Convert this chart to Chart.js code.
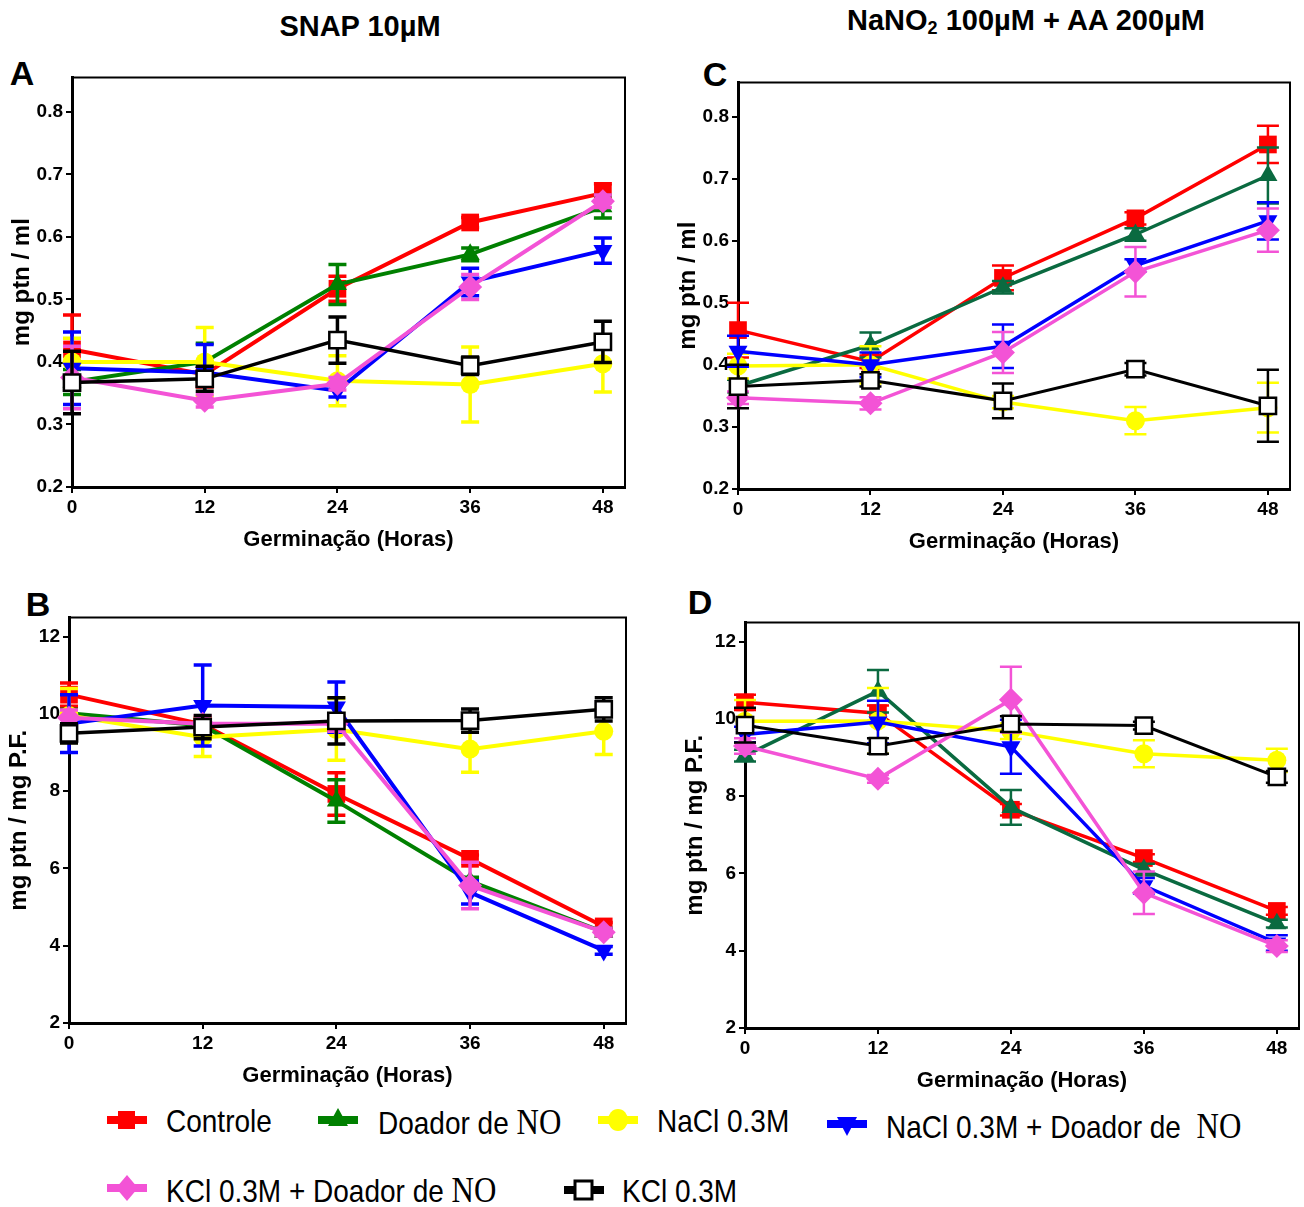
<!DOCTYPE html>
<html>
<head>
<meta charset="utf-8">
<script src="https://cdn.jsdelivr.net/npm/chart.js@4.4.1/dist/chart.umd.min.js"></script>
<style>
  body { margin:0; background:#fff; width:1304px; height:1207px; position:relative; overflow:hidden;
         font-family:"Liberation Sans", Arial, sans-serif; color:#000; }
  canvas { position:absolute; }
  .t { position:absolute; font-weight:bold; white-space:nowrap; line-height:1; transform:translate(-50%,-50%); }
  .leg { position:absolute; white-space:nowrap; font-size:28px; line-height:1; transform:translateY(-50%) scaleY(1.15); }
  .leg .no { font-family:"Liberation Serif", "Times New Roman", serif; font-size:31px; }
  .ico { position:absolute; transform:translateY(-50%); }
</style>
</head>
<body>
<div class="t" style="left:360px;top:26px;font-size:29px">SNAP 10µM</div>
<div class="t" style="left:1026px;top:21px;font-size:29px">NaNO<sub style="font-size:18px;vertical-align:-4px">2</sub> 100µM + AA 200µM</div>
<div class="t" style="left:22px;top:73px;font-size:34px">A</div>
<div class="t" style="left:38px;top:604px;font-size:34px">B</div>
<div class="t" style="left:715px;top:74px;font-size:34px">C</div>
<div class="t" style="left:700px;top:602px;font-size:34px">D</div>

<canvas id="cA"></canvas>
<canvas id="cB"></canvas>
<canvas id="cC"></canvas>
<canvas id="cD"></canvas>
<div id="legend"></div>

<script>
// ---- données ----
const hours = [0, 12, 24, 36, 48];
const seriesNames = ['Controle', 'Doador de NO', 'NaCl 0.3M', 'NaCl 0.3M + Doador de NO', 'KCl 0.3M + Doador de NO', 'KCl 0.3M'];
const ticksMl = [0.2, 0.3, 0.4, 0.5, 0.6, 0.7, 0.8];
const ticksPF = [2, 4, 6, 8, 10, 12];

// A - SNAP, mg ptn / ml
const aControle = [0.42, 0.38, 0.517, 0.623, 0.67];
const aDoador   = [0.368, 0.40, 0.524, 0.572, 0.648];
const aNaCl     = [0.40, 0.40, 0.37, 0.364, 0.397];
const aNaClNO   = [0.39, 0.383, 0.354, 0.528, 0.578];
const aKClNO    = [0.375, 0.338, 0.365, 0.52, 0.657];
const aKCl      = [0.367, 0.373, 0.435, 0.394, 0.432];
const aErrControle = [0.055, 0.02, 0.02, 0.008, 0.015];
const aErrDoador   = [0.02, 0.03, 0.032, 0.01, 0.018];
const aErrNaCl     = [0.038, 0.055, 0.04, 0.06, 0.045];
const aErrNaClNO   = [0.058, 0.045, 0.01, 0.022, 0.02];
const aErrKClNO    = [0.05, 0.01, 0.01, 0.02, 0.01];
const aErrKCl      = [0.05, 0.02, 0.037, 0.014, 0.033];

// B - SNAP, mg ptn / mg P.F.
const bControle = [10.5, 9.73, 7.93, 6.25, 4.5];
const bDoador   = [10.02, 9.7, 7.75, 5.67, 4.35];
const bNaCl     = [9.96, 9.4, 9.6, 9.09, 9.55];
const bNaClNO   = [9.75, 10.22, 10.18, 5.38, 3.88];
const bKClNO    = [9.9, 9.75, 9.75, 5.56, 4.35];
const bKCl      = [9.5, 9.66, 9.82, 9.83, 10.12];
const bErrControle = [0.3, 0.15, 0.55, 0.1, 0.1];
const bErrDoador   = [0.1, 0.15, 0.55, 0.1, 0.1];
const bErrNaCl     = [0.7, 0.5, 0.8, 0.6, 0.6];
const bErrNaClNO   = [0.75, 1.05, 0.65, 0.3, 0.1];
const bErrKClNO    = [0.2, 0.2, 0.2, 0.6, 0.1];
const bErrKCl      = [0.25, 0.3, 0.6, 0.3, 0.3];

// C - NaNO2 + AA, mg ptn / ml
const cControle = [0.456, 0.405, 0.54, 0.636, 0.755];
const cDoador   = [0.366, 0.432, 0.525, 0.61, 0.705];
const cNaCl     = [0.398, 0.40, 0.34, 0.31, 0.331];
const cNaClNO   = [0.422, 0.40, 0.43, 0.56, 0.632];
const cKClNO    = [0.347, 0.338, 0.42, 0.55, 0.617];
const cKCl      = [0.365, 0.375, 0.342, 0.393, 0.334];
const cErrControle = [0.044, 0.01, 0.02, 0.01, 0.03];
const cErrDoador   = [0.01, 0.02, 0.01, 0.01, 0.045];
const cErrNaCl     = [0.02, 0.03, 0.01, 0.022, 0.04];
const cErrNaClNO   = [0.025, 0.02, 0.035, 0.01, 0.03];
const cErrKClNO    = [0.01, 0.01, 0.033, 0.04, 0.035];
const cErrKCl      = [0.035, 0.01, 0.028, 0.01, 0.058];

// D - NaNO2 + AA, mg ptn / mg P.F.
const dControle = [10.43, 10.15, 7.65, 6.4, 5.03];
const dDoador   = [9.05, 10.72, 7.71, 6.1, 4.7];
const dNaCl     = [9.94, 9.95, 9.68, 9.1, 8.93];
const dNaClNO   = [9.6, 9.92, 9.28, 5.68, 4.2];
const dKClNO    = [9.3, 8.45, 10.5, 5.5, 4.12];
const dKCl      = [9.84, 9.3, 9.87, 9.83, 8.5];
const dErrControle = [0.2, 0.2, 0.15, 0.1, 0.1];
const dErrDoador   = [0.15, 0.55, 0.45, 0.15, 0.1];
const dErrNaCl     = [0.55, 0.85, 0.2, 0.35, 0.3];
const dErrNaClNO   = [0.2, 0.55, 0.7, 0.2, 0.2];
const dErrKClNO    = [0.2, 0.1, 0.85, 0.55, 0.15];
const dErrKCl      = [0.45, 0.2, 0.2, 0.1, 0.15];

// ---- styles ----
const FONT = '"Liberation Sans", Arial, sans-serif';
const greenSNAP = '#008000';
const greenNaNO = '#0a6a40';
const pink = '#f353d6';
function styles(green) {
  return [
    { color:'#ff0000', point:'rect', r:12.5 },
    { color:green, point:'triangle', r:11 },
    { color:'#ffff00', point:'circle', r:9.5 },
    { color:'#0000ff', point:'triangle', r:11, rot:180 },
    { color:pink, point:'rectRot', r:12 },
    { color:'#000000', point:'rect', r:11.5, fill:'#ffffff' }
  ];
}

// barres d'erreur dessinées avec les échelles du graphe
const errorBars = {
  id: 'errorBars',
  beforeDatasetDraw(chart, args, opts) {
    const ds = chart.data.datasets[args.index];
    if (!ds.errors) return;
    const xs = chart.scales.x, ys = chart.scales.y, ctx = chart.ctx;
    ctx.save();
    ctx.strokeStyle = ds.borderColor;
    ctx.lineWidth = opts.width;
    ctx.beginPath();
    ds.data.forEach((p, i) => {
      const e = ds.errors[i];
      const px = xs.getPixelForValue(p.x);
      const y1 = ys.getPixelForValue(p.y + e), y2 = ys.getPixelForValue(p.y - e);
      ctx.moveTo(px, y1); ctx.lineTo(px, y2);
      ctx.moveTo(px - opts.cap / 2, y1); ctx.lineTo(px + opts.cap / 2, y1);
      ctx.moveTo(px - opts.cap / 2, y2); ctx.lineTo(px + opts.cap / 2, y2);
    });
    ctx.stroke();
    ctx.restore();
  }
};
const frame = {
  id: 'frame',
  afterDraw(chart) {
    const a = chart.chartArea, ctx = chart.ctx;
    ctx.save();
    ctx.strokeStyle = '#000';
    ctx.lineWidth = 2;
    ctx.beginPath();
    ctx.moveTo(a.left, a.top); ctx.lineTo(a.right, a.top); ctx.lineTo(a.right, a.bottom);
    ctx.stroke();
    ctx.restore();
  }
};

const AXW = 70, AXH = 70, PAD = 12;
function makePanel(id, area, values, errors, green, yTicks, yMax, yTitle, lw, ew, cap) {
  const cv = document.getElementById(id);
  cv.width = area.r - area.l + AXW + PAD;
  cv.height = area.b - area.t + AXH + PAD;
  cv.style.left = (area.l - AXW) + 'px';
  cv.style.top = (area.t - PAD) + 'px';
  const st = styles(green);
  const datasets = values.map((vals, i) => ({
    label: seriesNames[i],
    data: hours.map((h, j) => ({ x: h, y: vals[j] })),
    errors: errors[i],
    borderColor: st[i].color,
    backgroundColor: st[i].fill || st[i].color,
    borderWidth: i === 5 ? lw - 0.5 : lw,
    pointStyle: st[i].point,
    pointRotation: st[i].rot || 0,
    pointRadius: st[i].r,
    pointBackgroundColor: st[i].fill || st[i].color,
    pointBorderColor: st[i].color,
    pointBorderWidth: i === 5 ? 2.5 : 0,
    tension: 0,
    clip: false,
    order: 6 - i
  }));
  const dec = yTicks[0] < 1;
  return new Chart(cv, {
    type: 'line',
    data: { datasets },
    plugins: [errorBars, frame],
    options: {
      responsive: false,
      animation: false,
      layout: { padding: { top: PAD, right: PAD, left: 0, bottom: 0 } },
      plugins: { legend: { display: false }, tooltip: { enabled: false }, errorBars: { width: ew, cap: cap } },
      scales: {
        x: {
          type: 'linear', min: 0, max: 50,
          afterBuildTicks: s => { s.ticks = hours.map(v => ({ value: v })); },
          afterFit: s => { s.height = AXH; },
          ticks: { color: '#000', font: { family: FONT, size: 19, weight: 'bold' }, padding: 3, maxRotation: 0 },
          grid: { drawOnChartArea: false, drawTicks: true, tickLength: 6, color: '#000', lineWidth: 2 },
          border: { display: true, color: '#000', width: 3 },
          title: { display: true, text: 'Germinação (Horas)', color: '#000',
                   font: { family: FONT, size: 22, weight: 'bold' }, padding: { top: 0, bottom: 4 } }
        },
        y: {
          type: 'linear', min: yTicks[0], max: yMax,
          afterBuildTicks: s => { s.ticks = yTicks.map(v => ({ value: v })); },
          afterFit: s => { s.width = AXW; },
          ticks: { color: '#000', font: { family: FONT, size: 19, weight: 'bold' }, padding: 3,
                   callback: v => dec ? v.toFixed(1) : String(v) },
          grid: { drawOnChartArea: false, drawTicks: true, tickLength: 6, color: '#000', lineWidth: 2 },
          border: { display: true, color: '#000', width: 3 },
          title: { display: true, text: yTitle, color: '#000',
                   font: { family: FONT, size: 24, weight: 'bold' }, padding: { top: 6, bottom: 0 } }
        }
      }
    }
  });
}

makePanel('cA', { l: 72, t: 75, r: 627, b: 487 },
  [aControle, aDoador, aNaCl, aNaClNO, aKClNO, aKCl],
  [aErrControle, aErrDoador, aErrNaCl, aErrNaClNO, aErrKClNO, aErrKCl],
  greenSNAP, ticksMl, 0.855, 'mg ptn / ml', 4, 3.5, 18);
makePanel('cB', { l: 69, t: 615, r: 628, b: 1023 },
  [bControle, bDoador, bNaCl, bNaClNO, bKClNO, bKCl],
  [bErrControle, bErrDoador, bErrNaCl, bErrNaClNO, bErrKClNO, bErrKCl],
  greenSNAP, ticksPF, 12.5, 'mg ptn / mg P.F.', 4, 3.5, 18);
makePanel('cC', { l: 738, t: 80, r: 1292, b: 489 },
  [cControle, cDoador, cNaCl, cNaClNO, cKClNO, cKCl],
  [cErrControle, cErrDoador, cErrNaCl, cErrNaClNO, cErrKClNO, cErrKCl],
  greenNaNO, ticksMl, 0.855, 'mg ptn / ml', 3.5, 2.5, 22);
makePanel('cD', { l: 745, t: 620, r: 1301, b: 1028 },
  [dControle, dDoador, dNaCl, dNaClNO, dKClNO, dKCl],
  [dErrControle, dErrDoador, dErrNaCl, dErrNaClNO, dErrKClNO, dErrKCl],
  greenNaNO, ticksPF, 12.5, 'mg ptn / mg P.F.', 3.5, 2.5, 22);

// ---- légende commune ----
const legPos = [
  { x: 107, y: 1122, tx: 166 },
  { x: 318, y: 1122, tx: 378 },
  { x: 598, y: 1122, tx: 657 },
  { x: 827, y: 1126, tx: 886 },
  { x: 107, y: 1190, tx: 166 },
  { x: 564, y: 1192, tx: 622 }
];
function icon(s) {
  const c = s.color;
  let m = '';
  if (s.point === 'rect') m = `<rect x="11" y="4" width="17" height="18" fill="${s.fill || c}" stroke="${c}" stroke-width="${s.fill ? 3 : 0}"/>`;
  else if (s.point === 'circle') m = `<ellipse cx="20" cy="13" rx="10" ry="11" fill="${c}"/>`;
  else if (s.point === 'rectRot') m = `<polygon points="20,0 31,13 20,26 9,13" fill="${c}"/>`;
  else if (s.rot) m = `<polygon points="10,6 30,6 20,25" fill="${c}"/>`;
  else m = `<polygon points="20,1 30,19 10,19" fill="${c}"/>`;
  return `<svg width="40" height="26"><line x1="0" y1="13" x2="40" y2="13" stroke="${c}" stroke-width="8"/>${m}</svg>`;
}
const legSt = styles(greenSNAP);
let html = '';
seriesNames.forEach((n, i) => {
  const p = legPos[i];
  const txt = n.replace('de NO', i === 3 ? 'de&nbsp; <span class="no">NO</span>' : 'de <span class="no">NO</span>');
  html += `<div class="ico" style="left:${p.x}px;top:${p.y}px">${icon(legSt[i])}</div>`;
  html += `<div class="leg" style="left:${p.tx}px;top:${p.y}px">${txt}</div>`;
});
document.getElementById('legend').innerHTML = html;
</script>
</body>
</html>
